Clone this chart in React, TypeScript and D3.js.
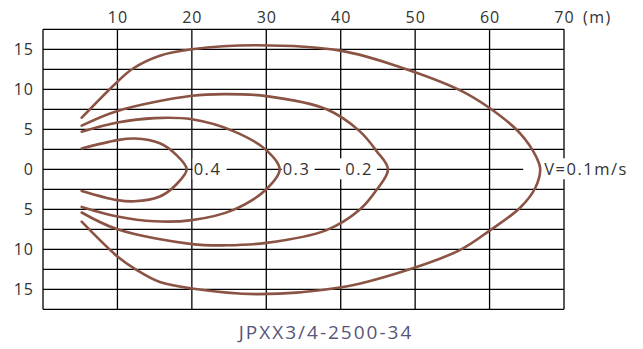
import React, { useEffect, useRef } from "react";
import * as d3 from "d3";

// distance along the jet (m) and half-width (m) for each velocity contour
const v04Dist = [5.2, 10, 12.3, 15.7, 17.9, 19.3, 17.9, 15.7, 12.3, 10, 5.2];
const v04Width = [2.6, 3.65, 3.85, 3.25, 1.8, 0, -1.9, -3.4, -4.0, -3.85, -2.7];

const v03Dist = [5.2, 10, 15, 20, 25.5, 30, 31.8, 30, 25.5, 20, 15, 10, 5.2];
const v03Width = [4.7, 5.85, 6.4, 6.25, 4.8, 2.4, 0, -2.5, -5.1, -6.35, -6.5, -5.9, -4.7];

const v02Dist = [5.2, 10, 20, 24.6, 30, 38.1, 42.5, 44.8, 46.35, 44.8, 42.5, 38.1, 30, 24.6, 20, 10, 5.2];
const v02Width = [5.45, 7.3, 9.2, 9.4, 9.15, 7.5, 4.8, 2.3, 0, -2.6, -5.1, -7.6, -9.2, -9.5, -9.35, -7.5, -5.4];

const v01Dist = [5.2, 10, 12.1, 15.7, 20, 28.7, 40.1, 47.9, 56, 60.1, 64.1, 66.3, 66.8, 66.1, 64.1, 60.1, 56, 47.9, 40.1, 28.7, 20, 15.7, 12.6, 10, 5.2];
const v01Width = [6.45, 10.95, 12.6, 14.2, 15.0, 15.5, 14.8, 12.8, 9.9, 7.6, 4.5, 1.5, 0, -2.4, -4.8, -7.6, -10.1, -12.9, -14.75, -15.6, -14.9, -14.1, -12.6, -10.9, -6.55];

const curveLabels = ["0.4", "0.3", "0.2", "V=0.1m/s"];
const xTicks = [10, 20, 30, 40, 50, 60, 70];
const yTicks = [15, 10, 5, 0, -5, -10, -15];
const title = "JPXX3/4-2500-34";

const App = () => {
  const svgRef = useRef<SVGSVGElement>(null);
  const width = 643;
  const height = 349;

  useEffect(() => {
    const svg = d3.select(svgRef.current);
    svg.selectAll("*").remove();

    const x = d3.scaleLinear().domain([0, 70]).range([43, 564]);
    const y = d3.scaleLinear().domain([17.5, -17.5]).range([29.3, 309.3]);
    const font = "'Open Sans', 'DejaVu Sans', sans-serif";

    // grid
    const grid = svg.append("g").attr("stroke", "#000").attr("stroke-width", 1.3);
    grid
      .selectAll("line.h")
      .data(d3.range(-17.5, 17.51, 2.5))
      .join("line")
      .attr("x1", x(0))
      .attr("x2", x(70))
      .attr("y1", (d) => y(d))
      .attr("y2", (d) => y(d));
    grid
      .selectAll("line.v")
      .data(d3.range(0, 70.1, 10))
      .join("line")
      .attr("x1", (d) => x(d))
      .attr("x2", (d) => x(d))
      .attr("y1", y(17.5))
      .attr("y2", y(-17.5));

    const contours = [
      [v04Dist, v04Width],
      [v03Dist, v03Width],
      [v02Dist, v02Width],
      [v01Dist, v01Width],
    ];
    const tips = contours.map(([ds]) => d3.max(ds) as number);

    // white boxes that break the centre line where labels sit
    const boxes = [
      [x(tips[0]) + 6, x(tips[0]) + 40],
      [x(tips[1]) + 2, x(tips[1]) + 35],
      [x(tips[2]) - 48, x(tips[2]) - 11],
      [x(tips[3]) - 17, x(tips[3]) + 92],
    ];
    svg
      .append("g")
      .selectAll("rect")
      .data(boxes)
      .join("rect")
      .attr("x", (d) => d[0])
      .attr("width", (d) => d[1] - d[0])
      .attr("y", y(0) - 11)
      .attr("height", 21)
      .attr("fill", "#fff");

    const path = d3
      .line<[number, number]>()
      .x((d) => x(d[0]))
      .y((d) => y(d[1]))
      .curve(d3.curveCatmullRom.alpha(0.5));

    svg
      .append("g")
      .selectAll("path")
      .data(contours.map(([ds, ws]) => ds.map((d, i) => [d, ws[i]] as [number, number])))
      .join("path")
      .attr("d", path)
      .attr("fill", "none")
      .attr("stroke", "#8a5343")
      .attr("stroke-width", 2.6)
      .attr("stroke-linecap", "round");

    // contour labels
    const labelX = [x(tips[0]) + 7, x(tips[1]) + 3, x(tips[2]) - 15, x(tips[3]) + 4];
    svg
      .append("g")
      .selectAll("text")
      .data(curveLabels)
      .join("text")
      .attr("x", (d, i) => labelX[i])
      .attr("y", y(0) + 6)
      .attr("text-anchor", (d, i) => (i === 2 ? "end" : "start"))
      .attr("font-family", font)
      .attr("font-size", 16.5)
      .attr("letter-spacing", 1.5)
      .attr("fill", "#333")
      .text((d) => d);

    // top axis labels
    svg
      .append("g")
      .selectAll("text")
      .data(xTicks)
      .join("text")
      .attr("x", (d) => x(d) + 0.5)
      .attr("y", 23)
      .attr("text-anchor", "middle")
      .attr("font-family", font)
      .attr("font-size", 16)
      .attr("letter-spacing", 1)
      .attr("fill", "#333")
      .text((d) => d);
    svg
      .append("text")
      .attr("x", x(70) + 19)
      .attr("y", 23)
      .attr("font-family", font)
      .attr("font-size", 16)
      .attr("letter-spacing", 1.5)
      .attr("fill", "#333")
      .text("(m)");

    // left axis labels
    svg
      .append("g")
      .selectAll("text")
      .data(yTicks)
      .join("text")
      .attr("x", 34)
      .attr("y", (d) => y(d) + 6)
      .attr("text-anchor", "end")
      .attr("font-family", font)
      .attr("font-size", 16)
      .attr("letter-spacing", 1)
      .attr("fill", "#333")
      .text((d) => Math.abs(d));

    svg
      .append("text")
      .attr("x", 326)
      .attr("y", 339)
      .attr("text-anchor", "middle")
      .attr("font-family", font)
      .attr("font-size", 19)
      .attr("letter-spacing", 2)
      .attr("fill", "#56557a")
      .text(title);
  }, []);

  return (
    <svg
      ref={svgRef}
      width={width}
      height={height}
      style={{ position: "absolute", left: 0, top: 0, background: "#fff" }}
    />
  );
};

export default App;
